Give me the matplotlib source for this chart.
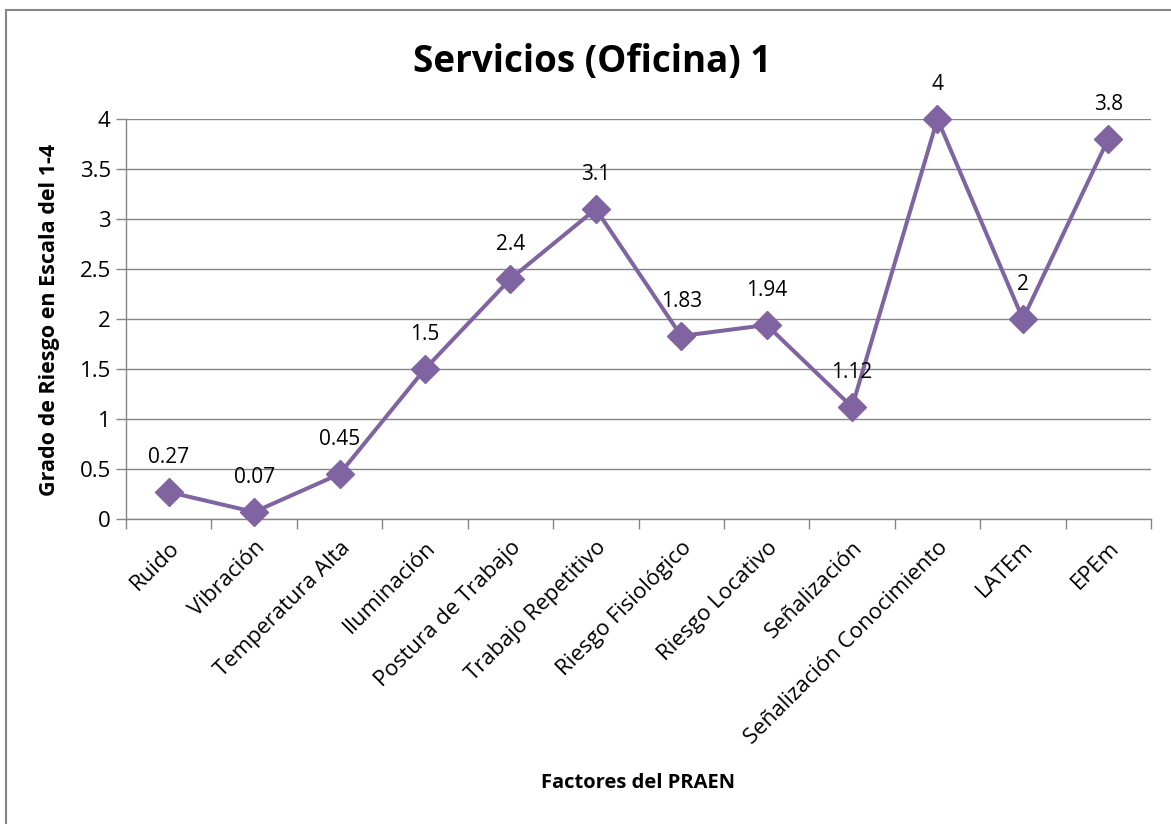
import matplotlib
matplotlib.use("Agg")
import matplotlib.pyplot as plt
from matplotlib.lines import Line2D

plt.rcParams['font.family'] = ['Open Sans', 'DejaVu Sans']

factores = ["Ruido", "Vibración", "Temperatura Alta", "Iluminación",
            "Postura de Trabajo", "Trabajo Repetitivo", "Riesgo Fisiológico",
            "Riesgo Locativo", "Señalización", "Señalización Conocimiento",
            "LATEm", "EPEm"]
grado = [0.27, 0.07, 0.45, 1.5, 2.4, 3.1, 1.83, 1.94, 1.12, 4, 2, 3.8]
etiquetas = ["0.27", "0.07", "0.45", "1.5", "2.4", "3.1", "1.83", "1.94",
             "1.12", "4", "2", "3.8"]
y_ticks = [0, 0.5, 1, 1.5, 2, 2.5, 3, 3.5, 4]
y_tick_labels = ["0", "0.5", "1", "1.5", "2", "2.5", "3", "3.5", "4"]

W, H = 1171, 824
fig = plt.figure(figsize=(W / 100, H / 100), dpi=100)
ax = fig.add_axes([126 / W, 1 - 519 / H, (1151 - 126) / W, 400 / H])

purple = "#8064A2"
grey = "#868686"
x = list(range(len(factores)))
ax.plot(x, grado, color=purple, lw=2.9, marker="D", markersize=14,
        markerfacecolor=purple, markeredgecolor=purple, zorder=3,
        clip_on=False)
for xi, yi, lab in zip(x, grado, etiquetas):
    ax.annotate(lab, (xi, yi), xytext=(0, 25), textcoords="offset points",
                ha="center", va="center", fontsize=15, color="black")

ax.set_xlim(-0.5, len(factores) - 0.5)
ax.set_ylim(0, 4)
ax.set_yticks(y_ticks)
ax.set_yticklabels(y_tick_labels, fontsize=16)
ax.yaxis.grid(True, color=grey, lw=1)
ax.set_axisbelow(True)

# category ticks sit between the categories
ax.set_xticks([i - 0.5 for i in range(len(factores) + 1)], minor=False)
ax.set_xticklabels([])
ax.set_xticks(x, minor=True)
ax.set_xticklabels(factores, minor=True, rotation=45, ha="right",
                   rotation_mode="anchor", fontsize=16)
ax.tick_params(axis="x", which="major", length=7, color=grey, width=1)
ax.tick_params(axis="x", which="minor", length=0, pad=13)
ax.tick_params(axis="y", length=7, color=grey, width=1, pad=4)

for side in ["top", "right"]:
    ax.spines[side].set_visible(False)
for side in ["left", "bottom"]:
    ax.spines[side].set_color(grey)
    ax.spines[side].set_linewidth(1)

fig.text(50 / W, 1 - 320 / H, "Grado de Riesgo en Escala del 1-4",
         rotation=90, ha="center", va="center", fontsize=15.5,
         fontweight="bold")
fig.text(638 / W, 1 - 783 / H, "Factores del PRAEN", ha="center",
         va="center", fontsize=14.5, fontweight="bold")
fig.text(592 / W, 1 - 62 / H, "Servicios (Oficina) 1", ha="center",
         va="center", fontsize=26.5, fontweight="bold")

# chart area frame
fig.add_artist(Line2D([6 / W, 6 / W], [0, 1 - 10 / H],
                      transform=fig.transFigure, color=grey, lw=1.5))
fig.add_artist(Line2D([6 / W, 1], [1 - 10 / H, 1 - 10 / H],
                      transform=fig.transFigure, color=grey, lw=1.5))

fig.savefig("out.png", dpi=100)
